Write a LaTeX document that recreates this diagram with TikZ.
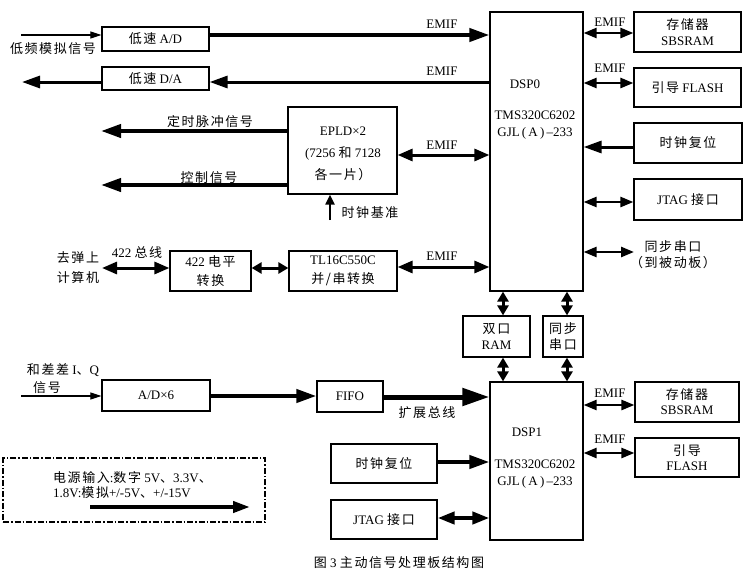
\documentclass[tikz,border=0pt]{standalone}
\usepackage{fontspec}
\setmainfont{Liberation Serif}
\newfontfamily\cjk[LetterSpace=12]{Noto Sans CJK SC}
\newcommand\zhs[1]{{\cjk #1}}
\usetikzlibrary{arrows.meta,calc}
\begin{document}
\begin{tikzpicture}[x=1pt,y=-1pt,font=\fontsize{13}{16}\selectfont,
  box/.style={draw,line width=1.2pt,inner sep=0pt,align=center},
  lbl/.style={inner sep=0pt,align=center},
  thinarr/.style={line width=1.1pt,-{Triangle[length=11pt,width=7pt]}},
  fatarr/.style={line width=4pt,-{Triangle[length=20pt,width=13pt]}},
  medarr/.style={line width=3pt,-{Triangle[length=18pt,width=12pt]}},
  bigarr/.style={line width=5pt,-{Triangle[length=27pt,width=17pt]}},
  vertarr/.style={line width=2pt,-{Triangle[length=10pt,width=9pt]}},
  dblA/.style={line width=3pt,{Triangle[length=15pt,width=12pt]}-{Triangle[length=15pt,width=12pt]}},
  dblB/.style={line width=2.5pt,{Triangle[length=13pt,width=10pt]}-{Triangle[length=13pt,width=10pt]}},
  dblS/.style={line width=3pt,{Triangle[length=10pt,width=11pt]}-{Triangle[length=10pt,width=11pt]}},
  dblJ/.style={line width=4pt,{Triangle[length=17pt,width=12pt]}-{Triangle[length=17pt,width=12pt]}},
  dashdot/.style={draw,line width=1.2pt,dash pattern=on 6pt off 2pt on 1.5pt off 2pt}]
\useasboundingbox (0,0) rectangle (750,581);
\fill[white] (0,0) rectangle (750,581);

% ---------- boxes ----------
\node[box,minimum width=107,minimum height=24] (ad) at (155.5,39) {\zhs{低速} A/D};
\node[box,minimum width=107,minimum height=23] (da) at (155.5,78.5) {\zhs{低速} D/A};
\node[box,minimum width=109,minimum height=87] (epld) at (342.5,150.5) {};
\node[lbl,font=\fontsize{13}{22}\selectfont] at (343,154) {EPLD×2\\(7256 \zhs{和} 7128\\\zhs{各一片）}};
\node[box,minimum width=81,minimum height=40,font=\fontsize{13}{19}\selectfont] (lvl) at (210.5,271) {422 \zhs{电平}\\\zhs{转换}};
\node[box,minimum width=108,minimum height=40,font=\fontsize{13}{19}\selectfont] (tl) at (343,271) {TL16C550C\\\zhs{并/串转换}};
\node[box,minimum width=93,minimum height=279] (dsp0) at (536.5,151.5) {};
\node[lbl] at (525,84) {DSP0};
\node[lbl,font=\fontsize{13}{17}\selectfont] at (535,125.5) {TMS320C6202\\GJL\,(\,A\,)\,–233};
\node[box,minimum width=107,minimum height=40] (sbs0) at (687.5,32) {\zhs{存储器}\\SBSRAM};
\node[box,minimum width=107,minimum height=39] (fl0) at (687.5,87.5) {\zhs{引导} FLASH};
\node[box,minimum width=108,minimum height=40] (clk0) at (688,143) {\zhs{时钟复位}};
\node[box,minimum width=108,minimum height=41] (jtag0) at (688,199.5) {JTAG \zhs{接口}};
\node[box,minimum width=67,minimum height=41] (ram) at (496.5,336.5) {\zhs{双口}\\RAM};
\node[box,minimum width=40,minimum height=41] (sp) at (563,336.5) {\zhs{同步}\\\zhs{串口}};
\node[box,minimum width=108,minimum height=31] (adx) at (156,395.5) {A/D×6};
\node[box,minimum width=66,minimum height=31] (fifo) at (350,396.5) {FIFO};
\node[box,minimum width=93,minimum height=158] (dsp1) at (536.5,461) {};
\node[lbl] at (527,432) {DSP1};
\node[lbl,font=\fontsize{13}{17}\selectfont] at (535,474) {TMS320C6202\\GJL\,(\,A\,)\,–233};
\node[box,minimum width=104,minimum height=40,font=\fontsize{13}{15}\selectfont] (sbs1) at (687,402) {\zhs{存储器}\\SBSRAM};
\node[box,minimum width=104,minimum height=39,font=\fontsize{13}{15}\selectfont] (fl1) at (687,457.5) {\zhs{引导}\\FLASH};
\node[box,minimum width=106,minimum height=39] (clk1) at (384,463.5) {\zhs{时钟复位}};
\node[box,minimum width=106,minimum height=39] (jtag1) at (384,519.5) {JTAG \zhs{接口}};
\node[dashdot,minimum width=262,minimum height=64,inner sep=0pt] (pwr) at (134,490) {};

% ---------- free ends ----------
\coordinate (inA) at (21,35);
\coordinate (outDA) at (22,82);
\coordinate (tp) at (101,131);
\coordinate (cs) at (101,185);
\coordinate (cb) at (330,220);
\coordinate (bus) at (102,268);
\coordinate (sync) at (634,252);
\coordinate (inIQ) at (21,396);
\coordinate (pA) at (90,507);
\coordinate (pB) at (250,507);
\coordinate (adO) at ([yshift=4pt]ad.east);
\coordinate (daO) at ([yshift=-3.5pt]da.east);

% ---------- DSP0 left side ----------
\draw[thinarr] (inA) -- (inA -| ad.west);
\node[lbl] at (53,49) {\zhs{低频模拟信号}};
\draw[fatarr] (adO) -- (adO -| dsp0.west);
\node[lbl] at (442,24) {EMIF};
\draw[medarr] (dsp0.west |- daO) -- (daO);
\node[lbl] at (442,71) {EMIF};
\draw[medarr] (outDA -| da.west) -- (outDA);
\draw[fatarr] (epld.west |- tp) -- (tp);
\node[lbl] at (210,122) {\zhs{定时脉冲信号}};
\draw[fatarr] (epld.west |- cs) -- (cs);
\node[lbl] at (209,178) {\zhs{控制信号}};
\draw[vertarr] (cb) -- (cb |- epld.south);
\node[lbl] at (370,213) {\zhs{时钟基准}};
\coordinate (e1) at (0,155);
\draw[dblA] (epld.east |- e1) -- (dsp0.west |- e1);
\node[lbl] at (442,145) {EMIF};
\coordinate (e2) at (0,267);
\draw[dblA] (tl.east |- e2) -- (dsp0.west |- e2);
\node[lbl] at (442,256) {EMIF};
\draw[dblS] (lvl.east |- bus) -- (tl.west |- bus);
\draw[dblA] (bus) -- (bus -| lvl.west);
\node[lbl] at (137,253) {422 \zhs{总线}};
\node[lbl,font=\fontsize{13}{20}\selectfont] at (78,268) {\zhs{去弹上}\\\zhs{计算机}};

% ---------- DSP0 right side ----------
\coordinate (r1) at (0,33);
\draw[dblB] (dsp0.east |- r1) -- (sbs0.west |- r1);
\node[lbl] at (610,22) {EMIF};
\coordinate (r2) at (0,83);
\draw[dblB] (dsp0.east |- r2) -- (fl0.west |- r2);
\node[lbl] at (610,68) {EMIF};
\coordinate (r3) at (0,147);
\draw[medarr] (clk0.west |- r3) -- (dsp0.east |- r3);
\coordinate (r4) at (0,202);
\draw[dblB] (dsp0.east |- r4) -- (jtag0.west |- r4);
\draw[dblB] (dsp0.east |- sync) -- (sync);
\node[lbl,font=\fontsize{13}{16}\selectfont] at (673,255) {\zhs{同步串口}\\\zhs{（到被动板）}};

% ---------- DSP0 / DSP1 links ----------
\coordinate (v1) at (503,0);
\coordinate (v2) at (567,0);
\draw[dblS] (dsp0.south -| v1) -- (ram.north -| v1);
\draw[dblS] (ram.south -| v1) -- (dsp1.north -| v1);
\draw[dblS] (dsp0.south -| v2) -- (sp.north -| v2);
\draw[dblS] (sp.south -| v2) -- (dsp1.north -| v2);

% ---------- DSP1 left side ----------
\draw[thinarr] (inIQ) -- (inIQ -| adx.west);
\node[lbl] at (63,370) {\zhs{和差差} I\zhs{、}Q};
\node[lbl] at (47,388) {\zhs{信号}};
\coordinate (b1) at (0,396);
\draw[fatarr] (adx.east |- b1) -- (fifo.west |- b1);
\coordinate (b2) at (0,397);
\draw[bigarr] (fifo.east |- b2) -- (dsp1.west |- b2);
\node[lbl] at (427,413) {\zhs{扩展总线}};
\coordinate (b3) at (0,462);
\draw[fatarr] (clk1.east |- b3) -- (dsp1.west |- b3);
\coordinate (b4) at (0,518);
\draw[dblJ] (jtag1.east |- b4) -- (dsp1.west |- b4);

% ---------- DSP1 right side ----------
\coordinate (q1) at (0,405);
\draw[dblB] (dsp1.east |- q1) -- (sbs1.west |- q1);
\node[lbl] at (610,393) {EMIF};
\coordinate (q2) at (0,453);
\draw[dblB] (dsp1.east |- q2) -- (fl1.west |- q2);
\node[lbl] at (610,439) {EMIF};

% ---------- power box ----------
\node[lbl,anchor=west,align=left,font=\fontsize{13}{14.5}\selectfont] at (53,485) {\zhs{电源输入}:\zhs{数字} 5V\zhs{、}3.3V\zhs{、}\\1.8V:\zhs{模拟}+/-5V\zhs{、}+/-15V};
\draw[fatarr,-{Triangle[length=17pt,width=11pt]}] (pA) -- (pB);

% ---------- caption ----------
\node[lbl] at (399,563) {\zhs{图} 3 \zhs{主动信号处理板结构图}};
\end{tikzpicture}
\end{document}
